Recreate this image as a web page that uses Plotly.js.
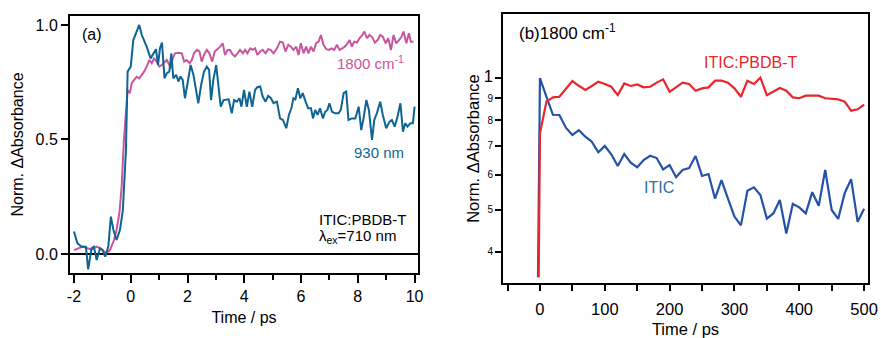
<!DOCTYPE html>
<html><head><meta charset="utf-8">
<script src="https://cdn.plot.ly/plotly-3.0.1.min.js"></script>
<style>html,body{margin:0;padding:0;background:#fff}#chart{width:881px;height:338px}</style>
</head><body><div id="chart"></div>
<script>
// Panel (a): ITIC:PBDB-T, lambda_ex = 710 nm
const timeA930 = [-2.00,-1.88,-1.73,-1.58,-1.50,-1.38,-1.30,-1.20,-1.08,-0.99,-0.90,-0.79,-0.70,-0.61,-0.50,-0.38,-0.28,-0.23,-0.17,-0.11,0.00,0.09,0.21,0.30,0.39,0.56,0.70,0.80,0.89,0.96,1.03,1.10,1.19,1.27,1.36,1.43,1.50,1.60,1.68,1.75,1.83,1.91,2.00,2.11,2.21,2.29,2.38,2.48,2.58,2.68,2.76,2.83,2.91,3.01,3.09,3.17,3.27,3.38,3.45,3.56,3.64,3.74,3.83,3.90,3.99,4.09,4.18,4.28,4.38,4.46,4.56,4.65,4.75,4.84,4.94,5.03,5.15,5.26,5.36,5.48,5.57,5.66,5.73,5.80,5.89,5.97,6.06,6.16,6.25,6.35,6.42,6.50,6.58,6.67,6.77,6.85,6.93,7.00,7.09,7.20,7.32,7.40,7.50,7.59,7.67,7.79,7.91,8.03,8.12,8.20,8.30,8.39,8.50,8.58,8.67,8.79,8.88,9.00,9.12,9.20,9.30,9.40,9.50,9.59,9.67,9.75,9.85,9.94,10.00];
const abs930 = [0.098,0.047,0.032,0.032,-0.067,0.025,0.032,-0.026,0.025,0.017,-0.012,0.032,0.163,0.105,0.061,0.105,0.189,0.294,0.450,0.796,0.818,0.934,0.971,1.000,0.956,0.905,0.854,0.876,0.894,0.825,0.898,0.923,0.767,0.789,0.796,0.876,0.767,0.782,0.753,0.775,0.760,0.680,0.738,0.825,0.782,0.724,0.658,0.738,0.796,0.818,0.804,0.672,0.760,0.825,0.738,0.643,0.672,0.672,0.675,0.614,0.672,0.665,0.680,0.643,0.716,0.643,0.709,0.643,0.716,0.728,0.731,0.687,0.665,0.690,0.680,0.658,0.665,0.592,0.585,0.549,0.607,0.636,0.680,0.675,0.724,0.680,0.702,0.665,0.636,0.636,0.592,0.629,0.607,0.636,0.592,0.621,0.629,0.658,0.621,0.614,0.614,0.629,0.702,0.709,0.585,0.592,0.592,0.643,0.541,0.592,0.672,0.629,0.498,0.585,0.614,0.665,0.607,0.549,0.578,0.585,0.556,0.600,0.658,0.534,0.571,0.556,0.571,0.571,0.643];
const timeA1800 = [-2.00,-1.85,-1.69,-1.53,-1.38,-1.20,-1.02,-0.87,-0.73,-0.59,-0.50,-0.40,-0.32,-0.24,-0.17,-0.11,-0.03,0.03,0.12,0.21,0.30,0.39,0.47,0.56,0.66,0.74,0.82,0.91,1.01,1.09,1.17,1.27,1.33,1.41,1.48,1.56,1.68,1.80,1.88,1.97,2.07,2.15,2.23,2.33,2.42,2.50,2.58,2.68,2.77,2.87,2.96,3.05,3.15,3.24,3.32,3.41,3.50,3.58,3.67,3.76,3.85,3.95,4.03,4.11,4.21,4.30,4.38,4.46,4.56,4.65,4.75,4.84,4.93,5.03,5.15,5.26,5.36,5.45,5.55,5.64,5.73,5.83,5.91,5.99,6.09,6.18,6.26,6.35,6.44,6.53,6.62,6.70,6.79,6.89,6.98,7.07,7.17,7.26,7.36,7.45,7.54,7.64,7.71,7.79,7.87,7.97,8.06,8.16,8.23,8.32,8.41,8.51,8.60,8.70,8.79,8.88,8.98,9.07,9.17,9.26,9.35,9.45,9.53,9.61,9.71,9.80,9.87,9.96];
const abs1800 = [0.017,0.025,0.032,0.025,0.020,0.032,0.020,0.003,0.017,0.061,0.105,0.178,0.294,0.498,0.629,0.716,0.702,0.745,0.760,0.774,0.767,0.782,0.796,0.818,0.847,0.833,0.854,0.840,0.818,0.825,0.833,0.847,0.833,0.811,0.854,0.876,0.879,0.876,0.840,0.847,0.833,0.847,0.876,0.891,0.884,0.840,0.869,0.891,0.876,0.840,0.884,0.894,0.905,0.920,0.869,0.891,0.891,0.873,0.862,0.876,0.891,0.876,0.891,0.876,0.898,0.891,0.898,0.869,0.884,0.891,0.876,0.894,0.891,0.876,0.898,0.927,0.923,0.884,0.913,0.905,0.891,0.905,0.869,0.920,0.876,0.905,0.876,0.905,0.884,0.920,0.927,0.956,0.913,0.894,0.891,0.898,0.891,0.913,0.891,0.898,0.905,0.920,0.934,0.905,0.927,0.923,0.942,0.956,0.971,0.942,0.956,0.946,0.923,0.934,0.956,0.949,0.920,0.942,0.891,0.956,0.920,0.934,0.946,0.971,0.920,0.964,0.927,0.927];

// Panel (b): 1800 cm-1
const timeBblend = [-2,0,10,20,30,40,50,60,70,80,90,100,110,120,130,140,150,160,170,180,190,200,210,220,230,240,250,260,270,280,290,300,310,320,330,340,350,360,370,380,390,400,410,420,430,440,450,460,470,480,490,500];
const absBblend = [0.35,0.747,0.883,0.903,0.906,0.947,0.984,0.960,0.939,0.959,0.981,0.969,0.955,0.914,0.972,0.959,0.967,0.952,0.955,0.976,0.993,0.930,0.952,0.976,0.969,0.935,0.947,0.952,0.986,0.986,0.976,0.947,0.906,0.986,0.969,1.002,0.914,0.930,0.949,0.935,0.903,0.899,0.911,0.911,0.911,0.899,0.897,0.894,0.883,0.842,0.848,0.869];
const timeBitic = [-3,0,10,20,30,40,50,60,70,80,90,100,110,120,130,140,150,160,170,180,190,200,210,220,230,240,250,260,270,280,290,300,310,320,330,340,350,360,370,380,390,400,410,420,430,440,450,460,470,480,490,500];
const absBitic = [0.35,1.0,0.906,0.824,0.823,0.770,0.741,0.760,0.734,0.715,0.676,0.699,0.669,0.629,0.670,0.640,0.625,0.649,0.664,0.656,0.618,0.632,0.593,0.616,0.622,0.663,0.597,0.603,0.530,0.584,0.530,0.482,0.460,0.552,0.562,0.540,0.477,0.490,0.526,0.441,0.515,0.506,0.490,0.548,0.510,0.616,0.499,0.476,0.545,0.587,0.469,0.502];

const xTicksA = [-2,0,2,4,6,8,10];
const xTickTextA = ['-2','0','2','4','6','8','10'];
const xMinorA = [-1,1,3,5,7,9];
const yTicksB = [0.4,0.5,0.6,0.7,0.8,0.9,1];
const yTickTextB = ['4','5','6','7','8','9','1'];

const FONT = 'Arial, "Liberation Sans", Helvetica, sans-serif';
const big = t => t === '1' ? '<span style="font-size:16.5px">1</span>' : t;

const traces = [
  {x: timeA1800, y: abs1800, xaxis: 'x', yaxis: 'y', mode: 'lines', line: {color: '#c9559e', width: 2}},
  {x: timeA930, y: abs930, xaxis: 'x', yaxis: 'y', mode: 'lines', line: {color: '#0e6494', width: 2}},
  {x: timeBitic, y: absBitic, xaxis: 'x2', yaxis: 'y2', mode: 'lines', line: {color: '#2452a6', width: 2.2}},
  {x: timeBblend, y: absBblend, xaxis: 'x2', yaxis: 'y2', mode: 'lines', line: {color: '#e8262b', width: 2.2}}
];

const W = 881, H = 338;
const px = v => v / W, py = v => 1 - v / H;

const axCommon = {showline: true, linecolor: 'black', linewidth: 2, mirror: true, showgrid: false,
  ticks: 'outside', tickcolor: 'black', tickwidth: 2, tickfont: {size: 16, color: 'black'}, zeroline: false};

const layout = {
  width: W, height: H, margin: {l: 0, r: 0, t: 0, b: 0}, showlegend: false,
  paper_bgcolor: 'white', plot_bgcolor: 'white',
  font: {family: FONT, size: 16, color: 'black'},
  xaxis: Object.assign({}, axCommon, {domain: [px(70), px(418)], range: [-2.14, 10.12], anchor: 'y',
    tickmode: 'array', tickvals: xTicksA, ticktext: xTickTextA, ticklen: 8,
    minor: {tickmode: 'array', tickvals: xMinorA, ticks: 'outside', ticklen: 5, tickwidth: 2, tickcolor: 'black', showgrid: false},
    title: {text: 'Time / ps', font: {size: 16}, standoff: 8}}),
  yaxis: Object.assign({}, axCommon, {domain: [py(273), py(16)], range: [-0.083, 1.039], anchor: 'x',
    dtick: 0.5, tick0: 0, tickformat: '.1f', ticklen: 7,
    zeroline: true, zerolinecolor: 'black', zerolinewidth: 2,
    title: {text: 'Norm. ΔAbsorbance', font: {size: 16}, standoff: 8}}),
  xaxis2: Object.assign({}, axCommon, {domain: [px(503), px(868)], range: [-57, 506], anchor: 'y2',
    dtick: 100, tick0: 0, ticklen: 6, ticklabelstandoff: 4, tickfont: {size: 16.5, color: 'black'},
    minor: {dtick: 50, tick0: 0, ticks: 'outside', ticklen: 6, tickwidth: 2, tickcolor: 'black', showgrid: false},
    title: {text: 'Time / ps', font: {size: 16.5}, standoff: 7}}),
  yaxis2: Object.assign({}, axCommon, {domain: [py(283), py(14)], type: 'log', range: [-0.469, 0.1465], anchor: 'x2',
    tickmode: 'array', tickvals: yTicksB, ticktext: yTickTextB.map(big), ticklen: 6,
    tickfont: {size: 10, color: 'black'},
    title: {text: 'Norm. ΔAbsorbance', font: {size: 16.5}, standoff: 0}}),
  annotations: [
    {text: '(a)', x: px(80), y: py(35)},
    {text: '1800 cm<sup>-1</sup>', x: px(335), y: py(63), font: {size: 15, color: '#c9559e'}},
    {text: '930 nm', x: px(352), y: py(152), font: {size: 15, color: '#0e6494'}},
    {text: 'ITIC:PBDB-T', x: px(317), y: py(219), font: {size: 15, color: 'black'}},
    {text: 'λ<sub>ex</sub>=710 nm', x: px(317), y: py(236), font: {size: 15, color: 'black'}},
    {text: '(b)1800 cm<sup>-1</sup>', x: px(517), y: py(32), font: {size: 17, color: 'black'}},
    {text: 'ITIC:PBDB-T', x: px(702), y: py(62), font: {size: 16, color: '#e8262b'}},
    {text: 'ITIC', x: px(642), y: py(188), font: {size: 16, color: '#2f6fa8'}}
  ].map(a => Object.assign({xref: 'paper', yref: 'paper', xanchor: 'left', yanchor: 'middle', showarrow: false,
    font: {size: 16, color: 'black'}}, a))
};

Plotly.newPlot('chart', traces, layout, {staticPlot: true, displayModeBar: false});
</script></body></html>
